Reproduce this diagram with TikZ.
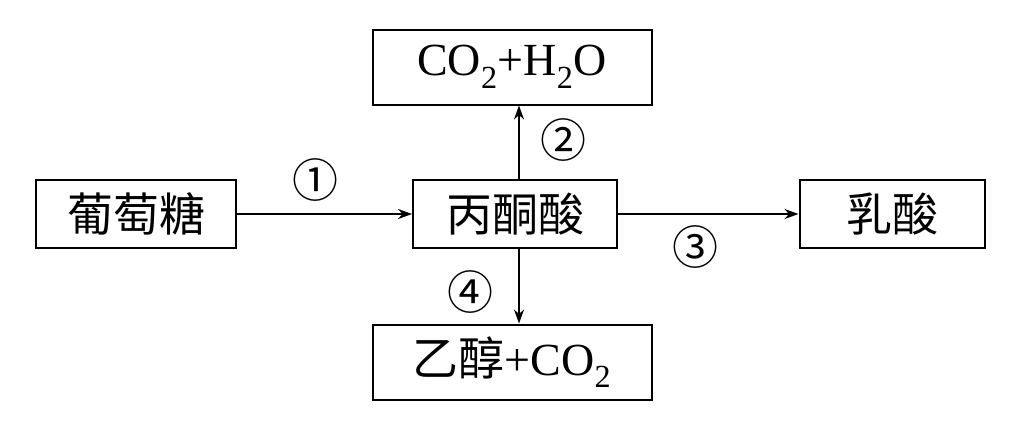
\documentclass[tikz,border=0pt]{standalone}
\usepackage{fontspec}
\setmainfont{Liberation Serif}
\newfontfamily\cjk{Noto Sans CJK SC}
\usetikzlibrary{arrows.meta}
\begin{document}
\begin{tikzpicture}[x=1pt,y=-1pt,
  box/.style={draw,line width=2pt,inner sep=0pt,font=\fontsize{46}{48}\selectfont},
  arr/.style={line width=2pt,-{Stealth[length=14pt,width=10pt]}},
  lab/.style={font=\cjk\fontsize{46}{48}\selectfont}]
\useasboundingbox (0,0) rectangle (1025,431);
\node[box,minimum width=200pt,minimum height=68pt] (g) at (136,214) {\cjk 葡萄糖};
\node[box,minimum width=204pt,minimum height=68pt] (p) at (515,214) {\cjk 丙酮酸};
\node[box,minimum width=185pt,minimum height=68pt] (l) at (892,214) {\cjk 乳酸};
\node[box,minimum width=279pt,minimum height=75pt] (c) at (512,67) {CO\textsubscript{2}+H\textsubscript{2}O};
\node[box,minimum width=279pt,minimum height=75pt] (e) at (512,362) {{\cjk 乙醇}+CO\textsubscript{2}};
\draw[arr] (g.east) -- (p.west);
\draw[arr] (p.east) -- (l.west);
\draw[arr] (p.north -| 519,0) -- (c.south -| 519,0);
\draw[arr] (p.south -| 519,0) -- (e.north -| 519,0);
\node[lab] (n1) at (315,180) {①};
\node[lab] (n2) at (563,140) {②};
\node[lab] (n3) at (695,247) {③};
\node[lab] (n4) at (470,292) {④};
\end{tikzpicture}
\end{document}
